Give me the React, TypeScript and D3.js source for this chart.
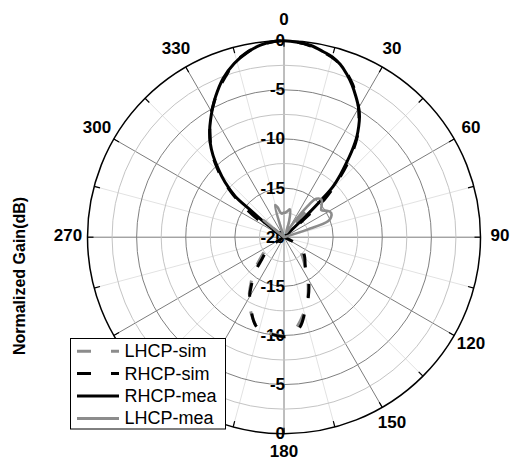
import React from "react";
import * as d3 from "d3";

// ---- data (angle in degrees, clockwise from top; gain in dB) ----
const lhcpSimAngles = [-90, -56, -50, -46, -40, 30, 36, 40, 44, 48, 53, 60, 108, 114, 122, 135, 146, 152, 159, 166, 173, 180, 188, 196, 203, 210, 216, 221, 227, 236, 244, 252, 270];
const lhcpSimGain = [-25, -22, -17.8, -20.5, -25, -25, -20, -16.8, -15.6, -17.5, -21, -25, -25, -20.5, -18.3, -17.4, -16.0, -14.8, -13.3, -11.9, -10.6, -10.0, -10.1, -10.4, -11.5, -12.9, -14.3, -15.3, -16.6, -17.9, -20.5, -25, -25];

const rhcpSimAngles = [-90, -62, -56, -52, -50, -47, -44, -40, -36, -32, -28, -24, -20, -16, -12, -8, -4, 0, 4, 8, 12, 16, 20, 24, 28, 32, 36, 40, 44, 47, 48, 50, 56, 105, 113, 120, 132, 145, 150, 158, 164, 170, 178, 186, 192, 198, 204, 210, 215, 219, 225, 235, 242, 250, 270];
const rhcpSimGain = [-25, -21, -17, -14.5, -13.2, -11.6, -10.2, -8.5, -7.2, -5.8, -4.7, -3.6, -2.6, -1.6, -0.9, -0.4, -0.1, 0, -0.1, -0.35, -0.75, -1.2, -1.9, -2.9, -4.1, -5.6, -7.3, -9.6, -12.3, -14.4, -16.8, -19.5, -25, -25, -20, -18.1, -17.2, -16.2, -15.0, -13.4, -12.2, -10.7, -9.9, -10.0, -10.2, -10.6, -11.8, -13.0, -14.3, -15.1, -16.8, -18.1, -20.5, -25, -25];

const rhcpMeaAngles = [-90, -70, -56, -53, -51, -50, -47, -44, -41, -38, -35, -32, -29, -26, -21, -16, -11, -7, -3, 0, 4, 8, 12, 15, 18, 21, 24, 27, 30, 32, 34, 36, 38, 40, 42, 44, 45, 46, 48, 60, 270];
const rhcpMeaGain = [-25, -25, -21, -17.5, -15.5, -13.5, -11.8, -10.4, -9.0, -7.8, -6.8, -5.9, -5.0, -4.1, -2.7, -1.6, -0.8, -0.3, -0.05, 0, -0.1, -0.3, -0.7, -1.0, -1.5, -2.2, -3.0, -3.9, -4.8, -5.5, -6.4, -7.4, -8.7, -10.1, -11.4, -12.8, -14.5, -17, -21, -25, -25];

const lhcpMeaAngles = [-90, -54, -50, -47, -30, -19, -15.5, -12, -8.8, -5, -1, 3, 8, 12, 18, 26, 33, 37, 40, 45, 50, 54, 59, 63, 67, 70, 72, 76, 90, 270];
const lhcpMeaGain = [-25, -22, -17.3, -21, -25, -21, -16.6, -16.9, -17.4, -17.6, -17.5, -17.5, -17.3, -17.1, -18.3, -19.5, -18.3, -16.2, -14.9, -14.6, -15.0, -15.3, -14.8, -14.6, -14.8, -15.2, -17.5, -21, -25, -25];

// angle labels shown in the reference (210 and 240 are hidden behind the legend)
const angleTicks = [0, 30, 60, 90, 120, 150, 180, 270, 300, 330];
const ringValues = [-17.5, -15, -12.5, -10, -7.5, -5, -2.5];
const upperRadialLabels = [0, -5, -10, -15, -20];
const lowerRadialLabels = [-15, -10, -5, 0];
const legendNames = ["LHCP-sim", "RHCP-sim", "RHCP-mea", "LHCP-mea"];

const W = 512, H = 462;
const cx = 284, cy = 237.2, R = 196.5;
const FONT = "Arial, 'Liberation Sans', Helvetica, sans-serif";

export default function App() {
  const r = d3.scaleLinear().domain([-20, 0]).range([0, R]).clamp(true);
  const toRad = (d: number) => (d * Math.PI) / 180;

  const makePath = (angles: number[], gains: number[]) => {
    const pts = angles.map((a, i) => [toRad(a), r(gains[i])] as [number, number]);
    const line = d3
      .lineRadial<[number, number]>()
      .angle((d) => d[0])
      .radius((d) => d[1])
      .curve(d3.curveCatmullRom.alpha(0.5));
    return line(pts) || "";
  };

  const series = [
    { name: "LHCP-sim", angles: lhcpSimAngles, gains: lhcpSimGain, color: "#8c8c8c", dash: "14 17", width: 3 },
    { name: "RHCP-sim", angles: rhcpSimAngles, gains: rhcpSimGain, color: "#000000", dash: "14 17", width: 3 },
    { name: "RHCP-mea", angles: rhcpMeaAngles, gains: rhcpMeaGain, color: "#000000", dash: "none", width: 3 },
    { name: "LHCP-mea", angles: lhcpMeaAngles, gains: lhcpMeaGain, color: "#8c8c8c", dash: "none", width: 2.6 },
  ];

  const spokes = d3.range(0, 360, 15);
  const LR = 216;

  return (
    <svg width={W} height={H} style={{ position: "absolute", left: 0, top: 0, background: "#fff" }} fontFamily={FONT}>
      <rect x={0} y={0} width={W} height={H} fill="#fff" />
      <g transform={`translate(${cx},${cy})`}>
        {spokes.map((a) => {
          const major = a % 30 === 0;
          return (
            <line
              key={"s" + a}
              x1={0}
              y1={0}
              x2={R * Math.sin(toRad(a))}
              y2={-R * Math.cos(toRad(a))}
              stroke={major ? "#7c7c7c" : "#e2e2e2"}
              strokeWidth={1}
            />
          );
        })}
        {ringValues.map((v) => (
          <circle
            key={"r" + v}
            r={r(v)}
            fill="none"
            stroke={v % 5 === 0 ? "#808080" : "#c4c4c4"}
            strokeWidth={1}
          />
        ))}
        <circle r={R} fill="none" stroke="#000" strokeWidth={1.5} />
        {spokes.map((a) => (
          <line
            key={"t" + a}
            x1={(R - 6) * Math.sin(toRad(a))}
            y1={-(R - 6) * Math.cos(toRad(a))}
            x2={R * Math.sin(toRad(a))}
            y2={-R * Math.cos(toRad(a))}
            stroke="#000"
            strokeWidth={1.2}
          />
        ))}
        {angleTicks.map((a) => (
          <text
            key={"al" + a}
            x={LR * Math.sin(toRad(a))}
            y={-1.5 - LR * Math.cos(toRad(a))}
            textAnchor="middle"
            dominantBaseline="central"
            fontSize={17}
            fontWeight="bold"
          >
            {a}
          </text>
        ))}
        {upperRadialLabels.map((v) => (
          <text key={"ul" + v} x={1} y={-r(v)} textAnchor="end" dominantBaseline="central" fontSize={17} fontWeight="bold">
            {v}
          </text>
        ))}
        {lowerRadialLabels.map((v) => (
          <text key={"ll" + v} x={1} y={r(v)} textAnchor="end" dominantBaseline="central" fontSize={17} fontWeight="bold">
            {v}
          </text>
        ))}
        {series.map((s) => (
          <path
            key={s.name}
            d={makePath(s.angles, s.gains)}
            fill="none"
            stroke={s.color}
            strokeWidth={s.width}
            strokeDasharray={s.dash}
            strokeLinejoin="round"
          />
        ))}
      </g>
      <text
        transform="translate(19,276) rotate(-90)"
        textAnchor="middle"
        dominantBaseline="central"
        fontSize={16}
        fontWeight="bold"
      >
        Normalized Gain(dB)
      </text>
      <g>
        <rect x={70.5} y={338.5} width={155} height={90.5} fill="#fff" stroke="#000" strokeWidth={1} />
        {legendNames.map((name, i) => {
          const s = series.find((d) => d.name === name)!;
          const y = 351.2 + i * 22.4;
          return (
            <g key={"lg" + name}>
              <line x1={77} x2={119} y1={y} y2={y} stroke={s.color} strokeWidth={3} strokeDasharray={s.dash === "none" ? "none" : "14 20"} />
              <text x={124.5} y={y} dominantBaseline="central" fontSize={18}>
                {name}
              </text>
            </g>
          );
        })}
      </g>
    </svg>
  );
}
